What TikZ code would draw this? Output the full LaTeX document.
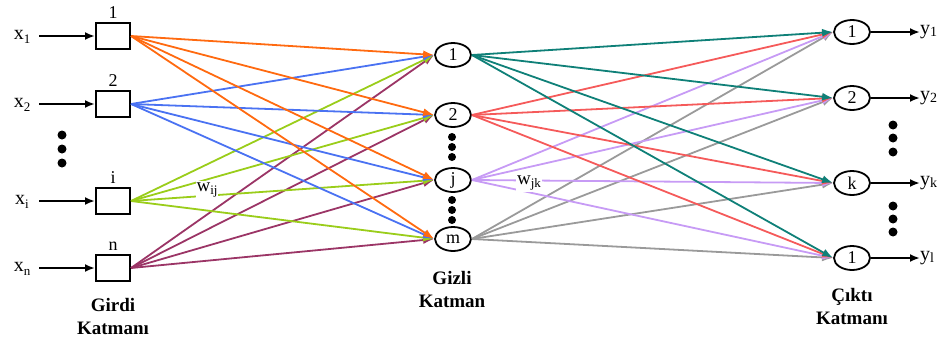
\documentclass[tikz,border=0pt]{standalone}
\usepackage{fontspec}
\setmainfont{Liberation Serif}
\usetikzlibrary{shapes.geometric,arrows.meta}
\definecolor{cOne}{HTML}{FF6A10}
\definecolor{cTwo}{HTML}{4A72F2}
\definecolor{cI}{HTML}{9ACD1A}
\definecolor{cN}{HTML}{9B3566}
\definecolor{cHOne}{HTML}{0F8078}
\definecolor{cHTwo}{HTML}{F55A5A}
\definecolor{cHJ}{HTML}{C79BF5}
\definecolor{cHM}{HTML}{9A9A9A}
\newcommand{\sub}[2]{#1\raisebox{-0.45ex}{\fontsize{13}{13}\selectfont #2}}
\newcommand{\ysub}[2]{#1\raisebox{-0.2ex}{\fontsize{14}{14}\selectfont #2}}
\tikzset{
  inbox/.style={draw, line width=2pt, minimum width=34pt, minimum height=26pt, inner sep=0pt},
  neuron/.style={draw, ellipse, line width=1.8pt, minimum width=36pt, minimum height=24pt, inner sep=0pt, font=\fontsize{18}{18}\selectfont},
  lbl/.style={font=\fontsize{20}{20}\selectfont, inner sep=0pt},
  toplbl/.style={font=\fontsize{18}{18}\selectfont, inner sep=0pt},
  layer/.style={font=\bfseries\fontsize{19}{23}\selectfont, align=center, inner sep=0pt},
  dot/.style={circle, fill=black, inner sep=0pt, minimum size=9pt},
  feed/.style={line width=2pt, -{Latex[length=10pt,width=8pt]}},
  wire/.style={line width=1.8pt, -{Latex[length=11pt,width=8pt]}},
  wlbl/.style={fill=white, inner sep=1pt, font=\fontsize{19}{19}\selectfont}
}
\begin{document}
\begin{tikzpicture}[x=1pt,y=-1pt]
\useasboundingbox (0,0) rectangle (945,343);

% input layer
\node[inbox] (i1) at (113,36) {};
\node[inbox] (i2) at (113,104) {};
\node[inbox] (ii) at (113,201) {};
\node[inbox] (in) at (113,268) {};
\node[toplbl, anchor=south] (t1) at (113,19) {1};
\node[toplbl, anchor=south] (t2) at (113,87) {2};
\node[toplbl, anchor=south] (ti) at (113,184) {i};
\node[toplbl, anchor=south] (tn) at (113,251) {n};
\node[lbl] (x1) at (22,37) {\sub{x}{1}};
\node[lbl] (x2) at (22,105) {\sub{x}{2}};
\node[lbl] (xi) at (22,202) {\sub{x}{i}};
\node[lbl] (xn) at (22,269) {\sub{x}{n}};
\coordinate (a1) at (39,36);
\coordinate (a2) at (39,104);
\coordinate (ai) at (39,201);
\coordinate (an) at (39,268);
\draw[feed] (a1) -- (i1.west);
\draw[feed] (a2) -- (i2.west);
\draw[feed] (ai) -- (ii.west);
\draw[feed] (an) -- (in.west);
\node[dot] (ld1) at (62,135) {};
\node[dot] (ld2) at (62,149) {};
\node[dot] (ld3) at (62,163) {};
\node[layer] (gl) at (113,316) {Girdi\\Katmanı};

% hidden layer
\node[neuron] (h1) at (453,55) {1};
\node[neuron] (h2) at (453,115) {2};
\node[neuron] (hj) at (453,180) {j};
\node[neuron] (hm) at (453,239) {m};
\node[dot, minimum size=8pt] (hd1) at (452,137) {};
\node[dot, minimum size=8pt] (hd2) at (452,147) {};
\node[dot, minimum size=8pt] (hd3) at (452,157) {};
\node[dot, minimum size=8pt] (hd4) at (452,200) {};
\node[dot, minimum size=8pt] (hd5) at (452,210) {};
\node[dot, minimum size=8pt] (hd6) at (452,220) {};
\node[layer] (hl) at (452,289) {Gizli\\Katman};

% output layer
\node[neuron] (o1) at (852,32) {1};
\node[neuron] (o2) at (852,98) {2};
\node[neuron] (ok) at (852,183) {k};
\node[neuron] (ol) at (852,258) {1};
\node[dot] (rd1) at (893,125) {};
\node[dot] (rd2) at (893,138) {};
\node[dot] (rd3) at (893,152) {};
\node[dot] (rd4) at (893,206) {};
\node[dot] (rd5) at (893,219) {};
\node[dot] (rd6) at (893,232) {};
\node[lbl, anchor=west] (y1) at (920,32) {\ysub{y}{1}};
\node[lbl, anchor=west] (y2) at (920,98) {\ysub{y}{2}};
\node[lbl, anchor=west] (yk) at (920,183) {\ysub{y}{k}};
\node[lbl, anchor=west] (yl) at (920,258) {\ysub{y}{l}};
\draw[feed] (o1.east) -- (y1.west);
\draw[feed] (o2.east) -- (y2.west);
\draw[feed] (ok.east) -- (yk.west);
\draw[feed] (ol.east) -- (yl.west);
\node[layer] (ol2) at (852,306) {Çıktı\\Katmanı};

% input -> hidden weights
\foreach \h in {h1,h2,hj,hm} {
  \draw[wire, cN] (in.east) -- (\h.west);
}
\foreach \h in {h1,h2,hj,hm} {
  \draw[wire, cI] (ii.east) -- (\h.west);
}
\foreach \h in {h1,h2,hj,hm} {
  \draw[wire, cTwo] (i2.east) -- (\h.west);
}
\foreach \h in {h1,h2,hj,hm} {
  \draw[wire, cOne] (i1.east) -- (\h.west);
}

% hidden -> output weights
\foreach \o in {o1,o2,ok,ol} {
  \draw[wire, cHM] (hm.east) -- (\o.west);
}
\foreach \o in {o1,o2,ok,ol} {
  \draw[wire, cHJ] (hj.east) -- (\o.west);
}
\foreach \o in {o1,o2,ok,ol} {
  \draw[wire, cHTwo] (h2.east) -- (\o.west);
}
\foreach \o in {o1,o2,ok,ol} {
  \draw[wire, cHOne] (h1.east) -- (\o.west);
}

\node[wlbl] (wij) at (207,190) {\sub{w}{ij}};
\node[wlbl] (wjk) at (529,183) {\sub{w}{jk}};
\end{tikzpicture}
\end{document}
